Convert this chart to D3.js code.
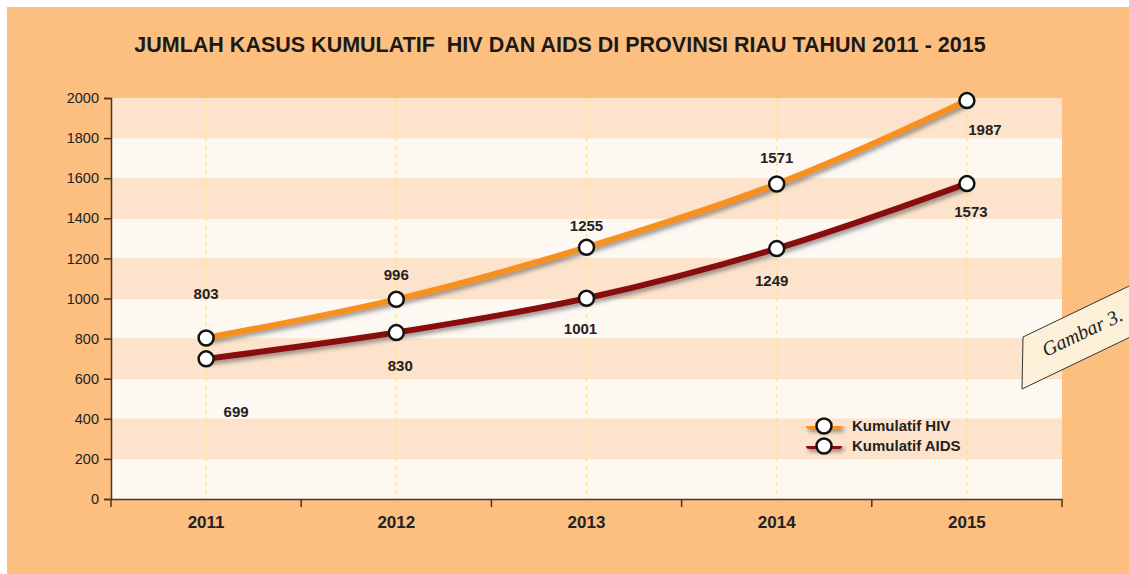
<!DOCTYPE html>
<html>
<head>
<meta charset="utf-8">
<script src="https://cdn.jsdelivr.net/npm/d3@7"></script>
<style>
  body { margin: 0; background: #fff; }
  svg { display: block; }
</style>
</head>
<body>
<div class="chart"></div>
<script>
const years = ['2011', '2012', '2013', '2014', '2015']
const hivValues = [803, 996, 1255, 1571, 1987]
const aidsValues = [699, 830, 1001, 1249, 1573]
const yTicks = [0, 200, 400, 600, 800, 1000, 1200, 1400, 1600, 1800, 2000]
const seriesNames = ['Kumulatif HIV', 'Kumulatif AIDS']

const width = 1129, height = 574
const margin = ({top: 98, right: 67, bottom: 75, left: 111})

const svg = d3.select('.chart').append('svg')
    .attr('width', width)
    .attr('height', height)
    .style('font-family', 'Liberation Sans, Arial, sans-serif')

// drop shadow for the lines
const defs = svg.append('defs')
const f = defs.append('filter').attr('id', 'shadow')
    .attr('filterUnits', 'userSpaceOnUse')
    .attr('x', 0).attr('y', 0).attr('width', width).attr('height', height)
f.append('feDropShadow')
    .attr('dx', 2).attr('dy', 3).attr('stdDeviation', 2.2)
    .attr('flood-color', '#555').attr('flood-opacity', 0.6)

// orange page
svg.append('rect')
    .attr('x', 7).attr('y', 7)
    .attr('width', width - 7).attr('height', height - 7)
    .attr('fill', '#FDBF80')

const x = d3.scaleBand()
    .domain(years)
    .range([margin.left, width - margin.right])

const y = d3.scaleLinear()
    .domain([0, 2000])
    .range([height - margin.bottom, margin.top])

// stripes
const bands = d3.pairs(yTicks)
svg.append('g').selectAll('rect')
    .data(bands)
    .join('rect')
    .attr('x', margin.left)
    .attr('width', width - margin.right - margin.left)
    .attr('y', d => y(d[1]))
    .attr('height', d => y(d[0]) - y(d[1]))
    .attr('fill', (d, i) => i % 2 == 0 ? '#FEF8F3' : '#FDE3CB')

// dashed vertical guides
svg.append('g').selectAll('line')
    .data(years)
    .join('line')
    .attr('x1', d => x(d) + x.bandwidth() / 2)
    .attr('x2', d => x(d) + x.bandwidth() / 2)
    .attr('y1', y(2000))
    .attr('y2', y(0))
    .attr('stroke', '#FCE08A')
    .attr('stroke-width', 1.5)
    .attr('stroke-dasharray', '3,5')

// axes
const yAxis = svg.append('g')
    .attr('transform', `translate(${margin.left},0)`)
    .call(d3.axisLeft(y).tickValues(yTicks).tickFormat(d3.format('d')).tickSize(7).tickPadding(5))
yAxis.select('.domain').attr('stroke', '#4a3520').attr('stroke-width', 1.5)
yAxis.selectAll('.tick line').attr('stroke', '#4a3520').attr('stroke-width', 1.5)
yAxis.selectAll('text')
    .attr('font-size', 14.5)
    .attr('fill', '#222')
    .style('font-family', 'Liberation Sans, Arial, sans-serif')

const xAxis = svg.append('g')
    .attr('transform', `translate(0,${y(0)})`)
    .call(d3.axisBottom(x).tickSize(0).tickPadding(17))
xAxis.select('.domain').attr('stroke', '#4a3520').attr('stroke-width', 1.5)
xAxis.selectAll('text')
    .attr('font-size', 17)
    .attr('font-weight', 'bold')
    .attr('fill', '#222')
    .style('font-family', 'Liberation Sans, Arial, sans-serif')

// ticks at band edges
const edges = years.map(d => x(d)).concat([x(years[years.length - 1]) + x.bandwidth()])
svg.append('g').selectAll('line')
    .data(edges)
    .join('line')
    .attr('x1', d => d).attr('x2', d => d)
    .attr('y1', y(0)).attr('y2', y(0) + 8)
    .attr('stroke', '#4a3520')
    .attr('stroke-width', 1.5)

// title
svg.append('text')
    .attr('x', 560)
    .attr('y', 52)
    .attr('text-anchor', 'middle')
    .attr('font-size', 21.5)
    .attr('font-weight', 'bold')
    .attr('fill', '#1a1a1a')
    .style('white-space', 'pre')
    .text('JUMLAH KASUS KUMULATIF  HIV DAN AIDS DI PROVINSI RIAU TAHUN 2011 - 2015')

const cx = d => x(d) + x.bandwidth() / 2
const line = d3.line()
    .x((d, i) => cx(years[i]))
    .y(d => y(d))
    .curve(d3.curveMonotoneX)

const series = [
    {name: seriesNames[0], values: hivValues, color: '#F7901E'},
    {name: seriesNames[1], values: aidsValues, color: '#8A1111'}
]

series.slice().reverse().forEach(s => {
    svg.append('path')
        .datum(s.values)
        .attr('d', line)
        .attr('fill', 'none')
        .attr('stroke', s.color)
        .attr('stroke-width', 6)
        .attr('stroke-linecap', 'round')
        .attr('filter', 'url(#shadow)')
})

series.forEach(s => {
    svg.append('g').selectAll('circle')
        .data(s.values)
        .join('circle')
        .attr('cx', (d, i) => cx(years[i]))
        .attr('cy', d => y(d))
        .attr('r', 7.5)
        .attr('fill', '#fff')
        .attr('stroke', '#111')
        .attr('stroke-width', 2.5)
})

// value labels (offsets from point)
const hivOffsets = [[0, -39], [0, -19], [0, -16], [0, -21], [18, 34]]
const aidsOffsets = [[30, 58], [4, 38], [-6, 36], [-5, 37], [4, 33]]

function labels(values, offsets) {
    svg.append('g').selectAll('text')
        .data(values)
        .join('text')
        .attr('x', (d, i) => cx(years[i]) + offsets[i][0])
        .attr('y', (d, i) => y(d) + offsets[i][1])
        .attr('text-anchor', 'middle')
        .attr('font-size', 15)
        .attr('font-weight', 'bold')
        .attr('fill', '#222')
        .text(d => d)
}
labels(hivValues, hivOffsets)
labels(aidsValues, aidsOffsets)

// legend
const legend = svg.append('g').attr('transform', 'translate(806,426)')
series.forEach((s, i) => {
    const g = legend.append('g').attr('transform', `translate(0,${i * 20})`)
    g.append('rect')
        .attr('x', 0).attr('y', -3)
        .attr('width', 36).attr('height', 6)
        .attr('rx', 3)
        .attr('fill', s.color)
        .attr('filter', 'url(#shadow)')
    g.append('circle')
        .attr('cx', 18).attr('r', 7.5)
        .attr('fill', '#fff').attr('stroke', '#111').attr('stroke-width', 2.5)
    g.append('text')
        .attr('x', 46).attr('y', 5)
        .attr('font-size', 15)
        .attr('font-weight', 'bold')
        .attr('fill', '#222')
        .text(s.name)
})

// "Gambar 3." tag, cut by right edge
svg.append('polygon')
    .attr('points', '1022,389 1023,337 1223,241 1222,293')
    .attr('fill', '#FCF0D9')
    .attr('stroke', '#333')
    .attr('stroke-width', 1)
svg.append('text')
    .attr('transform', 'translate(1046,357) rotate(-25.5)')
    .attr('font-size', 20)
    .attr('font-style', 'italic')
    .style('font-family', 'Liberation Serif, Times New Roman, serif')
    .attr('fill', '#222')
    .text('Gambar 3.')
</script>
</body>
</html>
